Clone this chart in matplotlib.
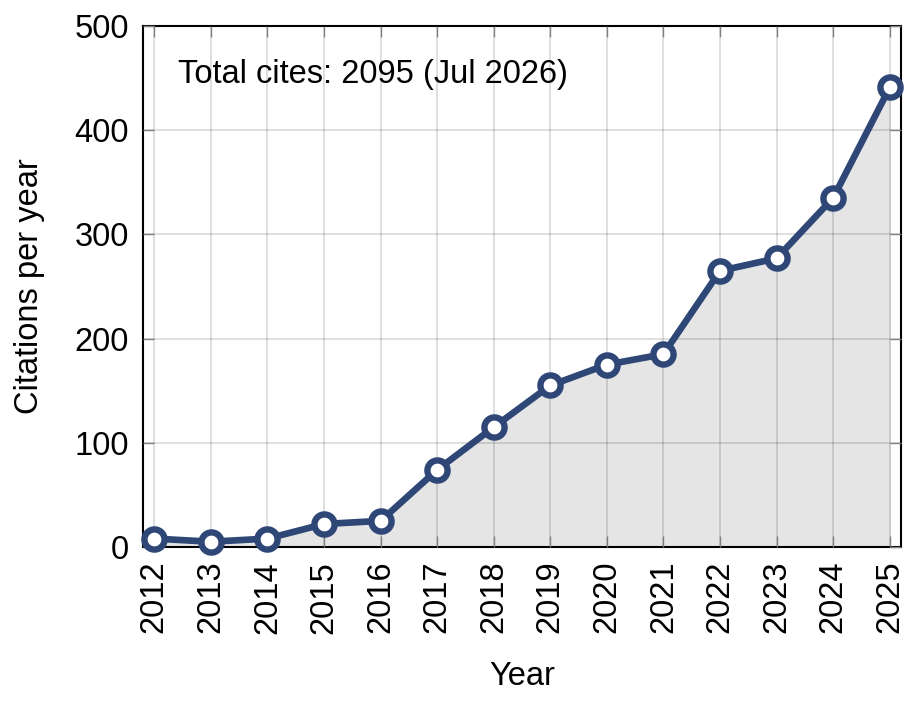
import numpy as np
import matplotlib
matplotlib.use('Agg')
import matplotlib.pyplot as plt

years = [2012, 2013, 2014, 2015, 2016, 2017, 2018, 2019, 2020, 2021, 2022, 2023, 2024, 2025]
cites = [8, 5, 8, 22, 25, 74, 115, 155, 175, 185, 265, 277, 335, 441]
note = "Total cites: 2095 (Jul 2026)"

line_color = '#2E4777'
plt.rcParams['font.family'] = ['Liberation Sans', 'DejaVu Sans']

fig = plt.figure(figsize=(9.17, 7.03), dpi=100)
ax = fig.add_axes([0.156, 0.222, 0.8266, 0.741])

ax.fill_between(years, cites, 0, color='#e5e5e5', zorder=1)
ax.grid(True, color='black', alpha=0.15, linewidth=1.2, zorder=2)
ax.set_axisbelow(False)
ax.plot(years, cites, color=line_color, linewidth=4.8, marker='o',
        markersize=14.5, markerfacecolor='white', markeredgecolor=line_color,
        markeredgewidth=4.6, zorder=3, clip_on=False)

ax.set_xlim(2011.8, 2025.2)
ax.set_ylim(0, 500)
ax.set_xticks(years)
ax.set_xticklabels([str(y) for y in years], rotation=90)
ax.set_yticks(np.arange(0, 501, 100))
ax.tick_params(direction='in', length=8, width=1, color='#808080',
               top=True, right=True, labelsize=23.5, pad=10)
for s in ax.spines.values():
    s.set_linewidth(1.5)

ax.set_xlabel('Year', fontsize=23.5, labelpad=20)
ax.set_ylabel('Citations per year', fontsize=23.5, labelpad=21)
ax.text(0.046, 0.906, note, transform=ax.transAxes, fontsize=23.5, va='center', ha='left')

fig.savefig('out.png', dpi=100)
